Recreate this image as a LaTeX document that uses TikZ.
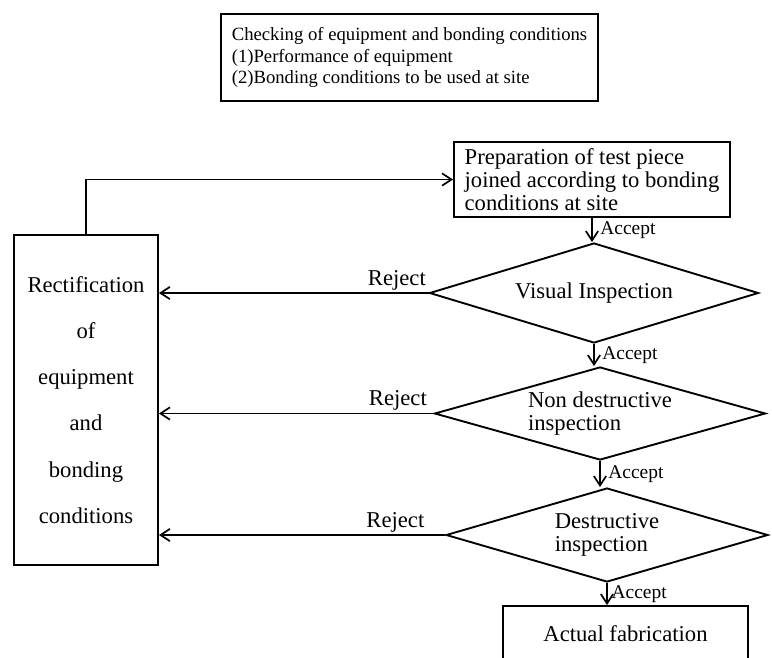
\documentclass[tikz,border=0pt]{standalone}
\usepackage{fontspec}
\setmainfont{Liberation Serif}
\usetikzlibrary{arrows.meta,shapes.geometric}
\newlength\px \setlength\px{0.53pt}
\tikzset{
  box/.style={draw,line width=1pt,inner sep=0pt,font=\fontsize{12}{12}\selectfont},
  dont/.style={diamond,draw,line width=1pt,inner sep=0pt,aspect=3.5,
    font=\fontsize{12}{12}\selectfont},
  arr/.style={-{Straight Barb[length=5pt,width=6.5pt]},line width=0.9pt},
  lbl/.style={inner sep=1pt,font=\fontsize{12}{12}\selectfont},
  acc/.style={inner sep=1pt,font=\fontsize{10.3}{12}\selectfont},
}

\begin{document}
\begin{tikzpicture}[x=\px,y=-\px]
  \useasboundingbox (0,0) rectangle (772,657);
  \clip (0,0) rectangle (772,657);
  % boxes
  \node[box,align=left,minimum width=377\px,minimum height=87\px,
    font=\fontsize{9.9}{11.4}\selectfont] (chk) at (409.5,57.5)
    {Checking of equipment and bonding conditions\\(1)Performance of equipment\\(2)Bonding conditions to be used at site};
  \node[box,align=left,minimum width=276\px,minimum height=75\px] (prep) at (592,179.5)
    {Preparation of test piece\\joined according to bonding\\conditions at site};
  \node[box,align=center,minimum width=144\px,minimum height=330\px] (rect) at (86,400)
    {Rectification\\[12.5pt]of\\[12.5pt]equipment\\[12.5pt]and\\[12.5pt]bonding\\[12.5pt]conditions};
  \node[box,minimum width=245\px,minimum height=56\px] (fab) at (625.5,634) {Actual fabrication};
  % decisions
  \node[dont,minimum width=329\px,minimum height=100\px] (vis) at (594,293) {Visual Inspection};
  \node[dont,align=left,minimum width=331\px,minimum height=93\px] (ndt) at (600,413.5)
    {Non destructive\\inspection};
  \node[dont,align=left,minimum width=322\px,minimum height=94\px] (dt) at (607,535)
    {Destructive\\inspection};
  % accept
  \draw[arr] (prep.south) -- (prep.south |- vis.north) node[acc,midway,right=3pt] {Accept};
  \draw[arr] (vis.south) -- (vis.south |- ndt.north) node[acc,midway,right=3pt] {Accept};
  \draw[arr] (ndt.south) -- (ndt.south |- dt.north) node[acc,midway,right=3pt] {Accept};
  \draw[arr] (dt.south) -- (dt.south |- fab.north) node[acc,midway,right=1pt] {Accept};
  % reject
  \draw[arr] (vis.west) -- (vis.west -| rect.east) node[lbl,pos=0,above left] {Reject};
  \draw[arr] (ndt.west) -- (ndt.west -| rect.east) node[lbl,pos=0,above left,xshift=-4\px] {Reject};
  \draw[arr] (dt.west) -- (dt.west -| rect.east) node[lbl,pos=0,above left,xshift=-18\px] {Reject};
  % back to test piece
  \draw[arr] (rect.north) |- (prep.west);
\end{tikzpicture}
\end{document}
